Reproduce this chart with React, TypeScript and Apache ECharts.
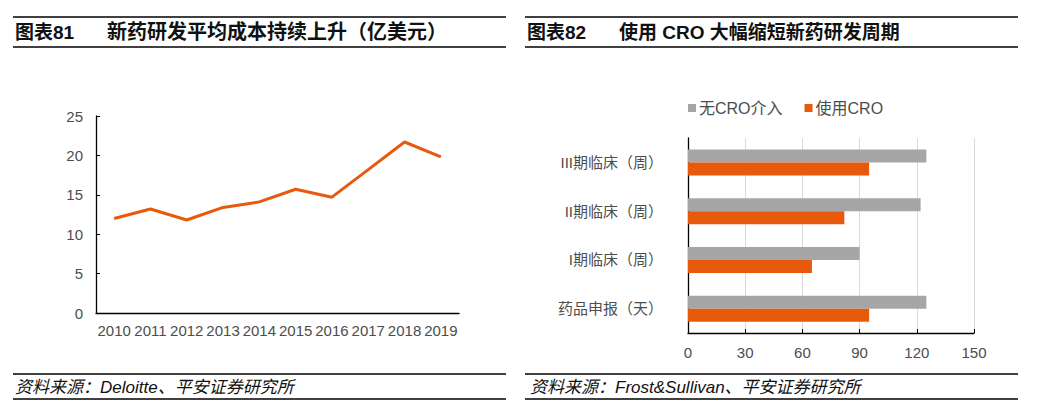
import React, { useEffect, useRef } from "react";
import * as echarts from "echarts";

const years = ["2010", "2011", "2012", "2013", "2014", "2015", "2016", "2017", "2018", "2019"];
const costValues = [12.0, 13.2, 11.8, 13.4, 14.1, 15.7, 14.7, 18.2, 21.7, 19.8];
const costTicks = [0, 5, 10, 15, 20, 25];

const phases = ["III期临床（周）", "II期临床（周）", "I期临床（周）", "药品申报（天）"];
const withoutCro = [125, 122, 90, 125];
const withCro = [95, 82, 65, 95];
const cycleTicks = [0, 30, 60, 90, 120, 150];

const leftTitleNo = "图表81";
const leftTitle = "新药研发平均成本持续上升（亿美元）";
const rightTitleNo = "图表82";
const rightTitle = "使用 CRO 大幅缩短新药研发周期";
const leftSource = "资料来源：Deloitte、平安证券研究所";
const rightSource = "资料来源：Frost&Sullivan、平安证券研究所";

const ORANGE = "#E8590C";
const GRAY = "#A6A6A6";
const LABEL = "#4D4D4D";
const FONT = "'Liberation Sans', 'Noto Sans CJK SC', Arial, sans-serif";
const CJK = "'Liberation Sans', 'Noto Sans CJK SC', sans-serif";

export default function App() {
  const ref = useRef<HTMLDivElement>(null);
  useEffect(() => {
    document.body.style.margin = "0";
    const chart = echarts.init(ref.current!, null, { renderer: "svg" });
    const hLine = (x1: number, x2: number, y: number) => ({
      type: "line",
      shape: { x1, y1: y, x2, y2: y },
      style: { stroke: "#000", lineWidth: 1.3 },
      silent: true,
    });
    const titleText = (x: number, text: string, size: number) => ({
      type: "text",
      x,
      y: 32,
      style: { text, fill: "#111", font: `bold ${size}px ${CJK}`, textVerticalAlign: "middle" },
    });
    const srcText = (x: number, text: string) => ({
      type: "text",
      x,
      y: 387,
      style: { text, fill: "#111", font: `italic 17px ${CJK}`, textVerticalAlign: "middle" },
    });
    chart.setOption({
      animation: false,
      backgroundColor: "#fff",
      textStyle: { fontFamily: FONT },
      graphic: [
        hLine(13, 506, 17),
        hLine(13, 506, 47),
        hLine(525, 1018, 17),
        hLine(525, 1018, 47),
        hLine(13, 506, 374),
        hLine(13, 506, 399),
        hLine(525, 1018, 374),
        hLine(525, 1018, 399),
        titleText(15, leftTitleNo, 19),
        titleText(107, leftTitle, 20),
        titleText(527, rightTitleNo, 19),
        titleText(619, rightTitle, 19),
        srcText(15, leftSource),
        srcText(530, rightSource),
      ],
      legend: {
        data: ["无CRO介入", "使用CRO"],
        left: 683,
        top: 95,
        itemWidth: 8,
        itemHeight: 8,
        itemGap: 22,
        icon: "rect",
        textStyle: { color: LABEL, fontSize: 16, fontFamily: CJK, padding: [0, 0, 0, -2] },
      },
      grid: [
        { left: 96, top: 116, width: 363, height: 197 },
        { left: 688, top: 138, width: 286, height: 195 },
      ],
      xAxis: [
        {
          type: "category",
          gridIndex: 0,
          data: years,
          boundaryGap: true,
          axisLine: { lineStyle: { color: "#000", width: 1.3 } },
          axisTick: { inside: true, length: 4, lineStyle: { color: "#000" } },
          axisLabel: { color: LABEL, fontSize: 15, margin: 10, interval: 0 },
        },
        {
          type: "value",
          gridIndex: 1,
          min: cycleTicks[0],
          max: cycleTicks[cycleTicks.length - 1],
          interval: 30,
          axisLine: { show: true, lineStyle: { color: "#000", width: 1.3 } },
          axisTick: { show: true, inside: true, length: 4, lineStyle: { color: "#000" } },
          axisLabel: { color: LABEL, fontSize: 15, margin: 12 },
          splitLine: { show: true, lineStyle: { color: "#D9D9D9" } },
        },
      ],
      yAxis: [
        {
          type: "value",
          gridIndex: 0,
          min: costTicks[0],
          max: costTicks[costTicks.length - 1],
          interval: 5,
          axisLine: { show: true, lineStyle: { color: "#000", width: 1.3 } },
          axisTick: { show: true, inside: true, length: 4, lineStyle: { color: "#000" } },
          axisLabel: { color: LABEL, fontSize: 15, margin: 13 },
          splitLine: { show: false },
        },
        {
          type: "category",
          gridIndex: 1,
          data: phases,
          inverse: true,
          axisLine: { lineStyle: { color: "#000", width: 1.3 } },
          axisTick: { inside: true, length: 4, lineStyle: { color: "#000" } },
          axisLabel: { color: LABEL, fontSize: 15, margin: 25, fontFamily: CJK },
        },
      ],
      series: [
        {
          type: "line",
          xAxisIndex: 0,
          yAxisIndex: 0,
          data: costValues,
          symbol: "none",
          lineStyle: { color: ORANGE, width: 3 },
          itemStyle: { color: ORANGE },
        },
        {
          name: "无CRO介入",
          type: "bar",
          xAxisIndex: 1,
          yAxisIndex: 1,
          data: withoutCro,
          itemStyle: { color: GRAY },
          barWidth: 13,
          barGap: "0%",
        },
        {
          name: "使用CRO",
          type: "bar",
          xAxisIndex: 1,
          yAxisIndex: 1,
          data: withCro,
          itemStyle: { color: ORANGE },
          barWidth: 13,
          barGap: "0%",
        },
      ],
    });
    return () => chart.dispose();
  }, []);
  return (
    <div
      ref={ref}
      style={{ position: "absolute", left: 0, top: 0, width: 1045, height: 415 }}
    />
  );
}
